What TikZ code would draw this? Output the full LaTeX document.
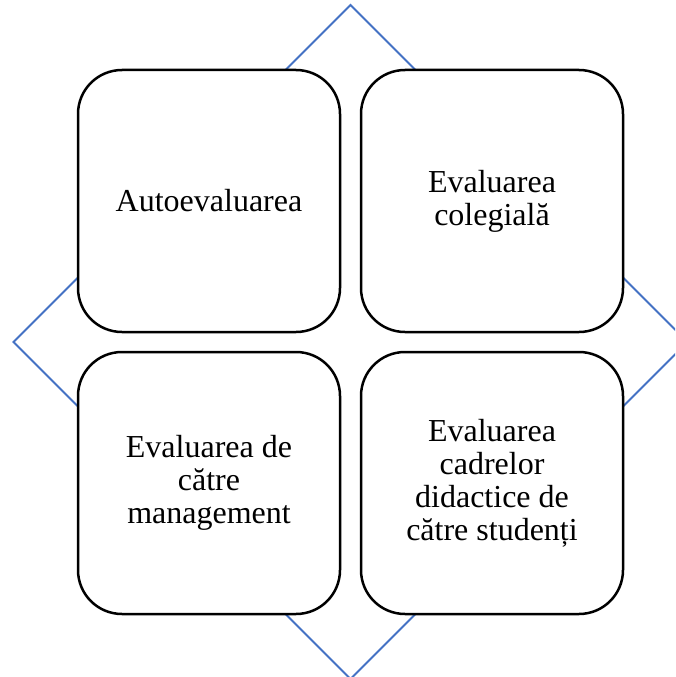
\documentclass[tikz,border=0pt]{standalone}
\usepackage{fontspec}
\setmainfont{Liberation Serif}
\definecolor{diamondblue}{RGB}{68,114,196}
\begin{document}
\begin{tikzpicture}[x=1pt,y=-1pt,
  card/.style={draw=black, line width=2.5pt, fill=white, rounded corners=44pt,
    minimum width=262pt, minimum height=262pt, align=center, inner sep=0pt,
    font=\fontsize{32}{33}\selectfont},
  frame/.style={draw=diamondblue, line width=2pt}]
\useasboundingbox (0,0) rectangle (675,677);
\clip (0,0) rectangle (675,677);
\coordinate (ctr) at (350.5,342);
\coordinate (dt) at (350.5,5);
\coordinate (dr) at (687.5,342);
\coordinate (db) at (350.5,679);
\coordinate (dl) at (13.5,342);
\draw[frame] (dt) -- (dr) -- (db) -- (dl) -- cycle;
\node[card] (tl) at (209,201) {Autoevaluarea};
\node[card] (tr) at (492,201) {Evaluarea\\colegială};
\node[card] (bl) at (209,483) {Evaluarea de\\către\\management};
\node[card] (br) at (492,483) {Evaluarea\\cadrelor\\didactice de\\către studenți};
\end{tikzpicture}
\end{document}
